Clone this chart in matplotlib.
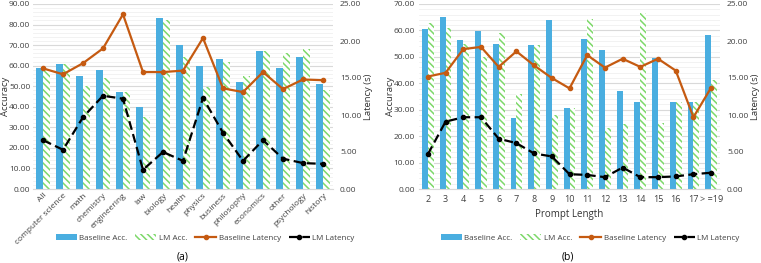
import matplotlib as mpl
mpl.use("Agg")
from matplotlib import pyplot as plt
from matplotlib.ticker import MultipleLocator
import numpy as np

# panel (a): per-subject
subjects = ["All", "computer science", "math", "chemistry", "engineering", "law",
            "biology", "health", "physics", "business", "philosophy", "economics",
            "other", "psychology", "history"]
base_acc_a = [59, 61, 55, 58, 47, 40, 83, 70, 60, 63, 52, 67, 59, 64, 51]
lm_acc_a = [58, 61, 50, 54, 47, 35, 82, 64, 49.5, 62, 55, 67, 66, 68, 48]
base_lat_a = [16.3, 15.5, 17.0, 19.0, 23.6, 15.8, 15.8, 16.0, 20.4, 13.6, 13.1, 15.8, 13.5, 14.8, 14.7]
lm_lat_a = [6.6, 5.3, 9.7, 12.6, 12.2, 2.6, 5.0, 3.8, 12.3, 7.6, 3.8, 6.6, 4.1, 3.5, 3.4]

# panel (b): per prompt length
lengths = ["2", "3", "4", "5", "6", "7", "8", "9", "10", "11", "12", "13", "14",
           "15", "16", "17", "> =19"]
base_acc_b = [60.5, 65, 56.3, 59.8, 55, 27, 54.5, 63.8, 30.5, 56.8, 52.7, 37, 33, 49.7, 33, 33, 58.3]
lm_acc_b = [63, 61, 55, 50, 59, 36, 54.5, 28, 30.5, 64.4, 23, 24.5, 66.6, 24.8, 33, 33, 41.4]
base_lat_b = [15.2, 15.7, 18.9, 19.2, 16.5, 18.6, 16.7, 15.0, 13.6, 18.1, 16.4, 17.6, 16.5, 17.6, 16.0, 9.7, 13.7]
lm_lat_b = [4.7, 9.1, 9.7, 9.7, 6.8, 6.2, 4.8, 4.4, 2.0, 1.9, 1.6, 2.9, 1.6, 1.6, 1.7, 2.0, 2.2]

BLUE = "#4AAEE0"
GREEN = "#7DD86A"
ORANGE = "#C55A11"

plt.rcParams["font.family"] = ["Open Sans", "DejaVu Sans"]
plt.rcParams["font.size"] = 6
plt.rcParams["hatch.linewidth"] = 1.1

W, H = 761, 263


def draw_panel(ax, cats, base_acc, lm_acc, base_lat, lm_lat, acc_max):
    x = np.arange(len(cats))
    w = 0.33
    ax.bar(x - w / 2, base_acc, w, color=BLUE, label="Baseline Acc.", zorder=2)
    ax.bar(x + w / 2, lm_acc, w, color="white", edgecolor=GREEN, hatch="\\\\\\\\\\",
           linewidth=0, label="LM Acc.", zorder=2)
    ax.set_ylim(0, acc_max)
    ax.set_xlim(-0.5, len(cats) - 0.5)
    ax.yaxis.set_major_locator(MultipleLocator(10))
    ax.yaxis.set_minor_locator(MultipleLocator(2))
    ax.yaxis.set_major_formatter(mpl.ticker.FormatStrFormatter("%.2f"))
    ax.grid(axis="y", which="major", color="#D9D9D9", linewidth=0.8, zorder=0)
    ax.grid(axis="y", which="minor", color="#F0F0F0", linewidth=0.6, zorder=0)
    ax.set_axisbelow(True)
    ax.set_xticks(x)
    ax.set_ylabel("Accuracy", fontsize=6.8, color="#333333")
    ax.tick_params(length=0, colors="#404040", labelsize=6)
    ax.tick_params(axis="y", which="minor", length=0)
    for s in ax.spines.values():
        s.set_visible(False)
    ax.spines["bottom"].set_visible(True)
    ax.spines["bottom"].set_color("#D9D9D9")

    ax2 = ax.twinx()
    ax2.plot(x, base_lat, color=ORANGE, lw=1.6, marker="o", ms=3, label="Baseline Latency", zorder=3)
    ax2.plot(x, lm_lat, color="black", lw=1.6, ls=(0, (4, 2)), marker="o", ms=3,
             label="LM Latency", zorder=3)
    ax2.set_ylim(0, 25)
    ax2.yaxis.set_major_locator(MultipleLocator(5))
    ax2.yaxis.set_major_formatter(mpl.ticker.FormatStrFormatter("%.2f"))
    ax2.set_ylabel("Latency (s)", fontsize=6.8, color="#333333")
    ax2.tick_params(length=0, colors="#404040", labelsize=6, pad=5)
    for s in ax2.spines.values():
        s.set_visible(False)
    return ax2


fig = plt.figure(figsize=(7.61, 2.63), dpi=100)

ax_a = fig.add_axes([33 / W, 1 - 189 / H, 300 / W, 185 / H])
ax_a2 = draw_panel(ax_a, subjects, base_acc_a, lm_acc_a, base_lat_a, lm_lat_a, 90)
ax_a.set_xticklabels(subjects, rotation=45, ha="right", rotation_mode="anchor")
ax_a.tick_params(axis="x", pad=2)
ax_a.tick_params(axis="y", pad=2)
ax_a.yaxis.set_label_coords(-23 / 300, 0.5)
ax_a2.yaxis.set_label_coords(1 + 31 / 300, 0.5)

ax_b = fig.add_axes([419 / W, 1 - 189 / H, 301 / W, 185 / H])
ax_b2 = draw_panel(ax_b, lengths, base_acc_b, lm_acc_b, base_lat_b, lm_lat_b, 70)
ax_b.set_xticklabels(lengths)
ax_b.tick_params(axis="x", pad=4, labelsize=6.5)
ax_b.tick_params(axis="y", pad=3)
ax_b.set_xlabel("Prompt Length", fontsize=7, color="#333333", labelpad=4)
ax_b.yaxis.set_label_coords(-24 / 301, 0.5)
ax_b2.yaxis.set_label_coords(1 + 31 / 301, 0.5)

for ax, ax2, cx, lab in [(ax_a, ax_a2, 205, "(a)"), (ax_b, ax_b2, 590, "(b)")]:
    h1, l1 = ax.get_legend_handles_labels()
    h2, l2 = ax2.get_legend_handles_labels()
    fig.legend(h1 + h2, l1 + l2, loc="center", bbox_to_anchor=(cx / W, 1 - 238 / H),
               ncol=4, frameon=False, fontsize=5.8, handlelength=2.6, handletextpad=0.3,
               columnspacing=1.0, labelcolor="#404040")
    fig.text((cx - 22) / W, 1 - 257 / H, lab, ha="center", va="center", fontsize=7.5)

fig.savefig("out.png", dpi=100)
